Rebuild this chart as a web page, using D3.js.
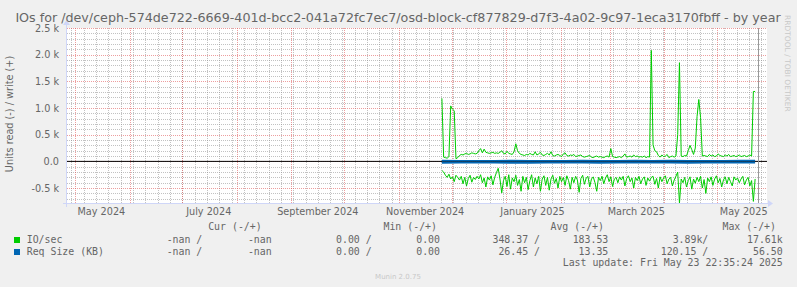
<!DOCTYPE html>
<html>
<head>
<meta charset="utf-8">
<script src="https://cdn.jsdelivr.net/npm/d3@7"></script>
<style>
  html, body { margin: 0; padding: 0; background: #f0f0f0; }
  svg { display: block; }
</style>
</head>
<body>
<div id="chart"></div>
<script>
// daily values from 2024-11-25 onward
const seriesStart = new Date(2024, 10, 25, 12);

const ioWrite = [
  1180, 80, 70, 60, 90, 1040, 980, 950, 50, 70,
  110, 130, 120, 140, 150, 130, 140, 160, 150, 140,
  150, 200, 240, 160, 230, 170, 160, 150, 160, 170,
  150, 160, 150, 170, 200, 150, 140, 190, 150, 140,
  130, 180, 330, 200, 150, 130, 120, 110, 130, 120,
  150, 130, 120, 180, 120, 140, 170, 120, 110, 130,
  150, 120, 180, 110, 100, 120, 130, 110, 90, 140,
  160, 110, 100, 120, 110, 130, 90, 100, 110, 120,
  90, 80, 90, 100, 110, 80, 70, 90, 100, 80,
  90, 80, 70, 90, 100, 80, 240, 90, 80, 70,
  80, 90, 70, 100, 140, 80, 90, 100, 80, 120,
  90, 100, 80, 90, 80, 100, 70, 90, 80, 2080,
  310, 200, 180, 110, 80, 120, 90, 100, 130, 70,
  90, 100, 80, 100, 500, 1850, 100, 90, 110, 100,
  200, 300, 220, 130, 250, 840, 1160, 820, 100, 110,
  100, 90, 130, 100, 120, 90, 100, 140, 110, 100,
  90, 120, 100, 130, 90, 100, 110, 90, 100, 120,
  90, 100, 110, 90, 100, 120, 100, 1310, 1310
];

const ioRead = [
  170, 200, 260, 300, 240, 330, 290, 380, 260, 300,
  350, 280, 420, 300, 460, 320, 260, 390, 300, 340,
  280, 330, 250, 400, 310, 480, 290, 350, 270, 440,
  300, 210, 130, 330, 590, 360, 280, 470, 250, 520,
  310, 380, 260, 450, 340, 560, 280, 400, 300, 530,
  360, 250, 480, 310, 420, 280, 560, 330, 270, 450,
  300, 540, 330, 260, 410, 320, 500, 280, 380, 300,
  450, 270, 360, 520, 300, 400, 280, 350, 580, 320,
  260, 430, 310, 280, 480, 330, 290, 400, 560, 300,
  360, 280, 420, 310, 250, 380, 290, 470, 330, 300,
  400, 290, 350, 280, 460, 320, 270, 380, 310, 500,
  300, 360, 280, 420, 330, 290, 450, 310, 370, 300,
  280, 430, 320, 500, 290, 380, 310, 270, 420, 330,
  300, 460, 350, 280, 200, 780, 330, 400, 300, 480,
  360, 290, 520, 330, 410, 300, 380, 280, 500, 340,
  600, 310, 380, 290, 450, 330, 270, 400, 320, 480,
  350, 290, 420, 300, 380, 460, 290, 350, 310, 400,
  330, 280, 440, 350, 300, 460, 360, 750, 330
];

// req size sampled every 10 days
const reqStep = 10;
const reqWrite = [14, 13, 12, 13, 14, 13, 12, 13, 14, 13, 12, 14, 13, 14, 13, 12, 13, 14];
const reqRead = [27, 26, 25, 26, 28, 27, 26, 25, 26, 27, 26, 25, 27, 26, 28, 26, 25, 26];

const yTicks = [-500, 0, 500, 1000, 1500, 2000, 2500];
const yTickLabels = ["-0.5 k", "0.0", "0.5 k", "1.0 k", "1.5 k", "2.0 k", "2.5 k"];

const legendRows = [
  { name: "IO/sec", color: "#00cc00", cur: ["-nan /", "-nan"], min: ["0.00 /", "0.00"], avg: ["348.37 /", "183.53"], max: ["3.89k/", "17.61k"] },
  { name: "Req Size (KB)", color: "#0066b3", cur: ["-nan /", "-nan"], min: ["0.00 /", "0.00"], avg: ["26.45 /", "13.35"], max: ["120.15 /", "56.50"] }
];

const title = "IOs for /dev/ceph-574de722-6669-401d-bcc2-041a72fc7ec7/osd-block-cf877829-d7f3-4a02-9c97-1eca3170fbff - by year";

const W = 797, H = 287;
const plot = { left: 67, right: 767, top: 28, bottom: 203 };

const svg = d3.select("#chart").append("svg")
  .attr("width", W).attr("height", H)
  .style("font-family", "'DejaVu Sans', sans-serif");

svg.append("rect").attr("width", W).attr("height", H).attr("fill", "#f0f0f0");

const x = d3.scaleTime()
  .domain([new Date(2024, 3, 26, 11), new Date(2025, 4, 29, 6)])
  .range([plot.left, plot.right]);

const y = d3.scaleLinear()
  .domain([-780, 2500])
  .range([plot.bottom, plot.top]);

// canvas
svg.append("rect")
  .attr("x", plot.left).attr("y", plot.top)
  .attr("width", plot.right - plot.left).attr("height", plot.bottom - plot.top)
  .attr("fill", "#ffffff");

const grid = svg.append("g").attr("shape-rendering", "crispEdges");

// minor grid
const minorY = d3.range(-700, 2501, 100).filter(v => v % 500 !== 0);
grid.selectAll(".hmin").data(minorY).join("line")
  .attr("x1", plot.left).attr("x2", plot.right)
  .attr("y1", d => Math.round(y(d)) + 0.5).attr("y2", d => Math.round(y(d)) + 0.5)
  .attr("stroke", "rgba(143,143,143,0.55)").attr("stroke-dasharray", "1,1");

const weeks = d3.timeMonday.range(x.domain()[0], x.domain()[1]);
grid.selectAll(".vmin").data(weeks).join("line")
  .attr("x1", d => Math.round(x(d)) + 0.5).attr("x2", d => Math.round(x(d)) + 0.5)
  .attr("y1", plot.top).attr("y2", plot.bottom)
  .attr("stroke", "rgba(143,143,143,0.55)").attr("stroke-dasharray", "1,1");

// major grid
grid.selectAll(".hmaj").data(yTicks).join("line")
  .attr("x1", plot.left).attr("x2", plot.right)
  .attr("y1", d => Math.round(y(d)) + 0.5).attr("y2", d => Math.round(y(d)) + 0.5)
  .attr("stroke", "rgba(222,79,79,0.55)").attr("stroke-dasharray", "1,1");

const months = d3.timeMonth.range(x.domain()[0], x.domain()[1]);
grid.selectAll(".vmaj").data(months).join("line")
  .attr("x1", d => Math.round(x(d)) + 0.5).attr("x2", d => Math.round(x(d)) + 0.5)
  .attr("y1", plot.top).attr("y2", plot.bottom)
  .attr("stroke", "rgba(222,79,79,0.55)").attr("stroke-dasharray", "1,1");

// y labels
svg.append("g").selectAll("text").data(yTicks).join("text")
  .attr("x", 59).attr("y", d => y(d) + 3.5)
  .attr("text-anchor", "end")
  .attr("fill", "#666").style("font-size", "9.7px")
  .text((d, i) => yTickLabels[i]);

// x labels, every 2 months, centred half a month after the grid line
const labelMonths = months.filter(d => d.getMonth() % 2 === 0);
svg.append("g").selectAll("text").data(labelMonths).join("text")
  .attr("x", d => x(d3.timeDay.offset(d, 15)))
  .attr("y", 215)
  .attr("text-anchor", "middle")
  .attr("fill", "#666").style("font-size", "9.7px")
  .text(d3.timeFormat("%B %Y"));

svg.append("text")
  .attr("transform", "translate(13,114) rotate(-90)")
  .attr("text-anchor", "middle")
  .attr("fill", "#666").style("font-size", "9.7px")
  .text("Units read (-) / write (+)");

// zero rule
svg.append("line")
  .attr("x1", plot.left).attr("x2", plot.right)
  .attr("y1", y(0)).attr("y2", y(0))
  .attr("stroke", "#000").attr("stroke-width", 1);

const day = i => d3.timeDay.offset(seriesStart, i);
const line = d3.line().x(d => x(d[0])).y(d => y(d[1]));

const reqW = reqWrite.map((v, i) => [day(Math.min(i * reqStep, ioWrite.length - 1)), v]);
const reqR = reqRead.map((v, i) => [day(Math.min(i * reqStep, ioWrite.length - 1)), -v]);
reqW.push([day(ioWrite.length - 1), reqWrite[reqWrite.length - 1]]);
reqR.push([day(ioWrite.length - 1), -reqRead[reqRead.length - 1]]);

svg.append("path").datum(reqW).attr("d", line)
  .attr("fill", "none").attr("stroke", "#0066b3").attr("stroke-width", 1.6);
svg.append("path").datum(reqR).attr("d", line)
  .attr("fill", "none").attr("stroke", "#0066b3").attr("stroke-width", 1.6);

svg.append("path").datum(ioWrite.map((v, i) => [day(i), v])).attr("d", line)
  .attr("fill", "none").attr("stroke", "#00cc00").attr("stroke-width", 1);
svg.append("path").datum(ioRead.map((v, i) => [day(i), -v])).attr("d", line)
  .attr("fill", "none").attr("stroke", "#00cc00").attr("stroke-width", 1);

// "now" rule
const now = new Date(2025, 4, 23, 22, 35);
svg.append("line")
  .attr("x1", Math.round(x(now)) + 0.5).attr("x2", Math.round(x(now)) + 0.5)
  .attr("y1", plot.top).attr("y2", plot.bottom)
  .attr("stroke", "#999").attr("stroke-width", 1);

// axes
const axis = svg.append("g").attr("stroke", "#cfd6f8").attr("fill", "#cfd6f8");
axis.append("line").attr("x1", plot.left - 4).attr("x2", plot.right + 1)
  .attr("y1", plot.bottom + 0.5).attr("y2", plot.bottom + 0.5);
axis.append("line").attr("x1", plot.left - 0.5).attr("x2", plot.left - 0.5)
  .attr("y1", plot.bottom + 4).attr("y2", plot.top - 4);
axis.append("path").attr("stroke", "none")
  .attr("d", `M${plot.right + 1},${plot.bottom - 3} L${plot.right + 6},${plot.bottom + 0.5} L${plot.right + 1},${plot.bottom + 4} Z`);
axis.append("path").attr("stroke", "none")
  .attr("d", `M${plot.left - 4},${plot.top - 3} L${plot.left - 0.5},${plot.top - 8} L${plot.left + 3},${plot.top - 3} Z`);

// title
svg.append("text")
  .attr("x", 398).attr("y", 22)
  .attr("text-anchor", "middle")
  .attr("fill", "#666").style("font-size", "12.7px")
  .text(title);

// legend
const mono = "'DejaVu Sans Mono', monospace";
const legend = svg.append("g").style("font-family", mono).style("font-size", "9.9px").attr("fill", "#666");
const headers = [["Cur (-/+)", 261.7], ["Min (-/+)", 437], ["Avg (-/+)", 604], ["Max (-/+)", 776]];
legend.selectAll(".hdr").data(headers).join("text")
  .attr("x", d => d[1]).attr("y", 230).attr("text-anchor", "end").text(d => d[0]);

const colEnds = [202.3, 271.7, 371.7, 440, 540, 608.3, 708.3, 782.7];
legendRows.forEach((r, i) => {
  const yy = 243 + i * 12;
  legend.append("rect").attr("x", 14).attr("y", yy - 6).attr("width", 6).attr("height", 6).attr("fill", r.color);
  legend.append("text").attr("x", 26.7).attr("y", yy).text(r.name);
  const vals = [...r.cur, ...r.min, ...r.avg, ...r.max];
  vals.forEach((v, j) => {
    legend.append("text").attr("x", colEnds[j]).attr("y", yy).attr("text-anchor", "end").text(v);
  });
});
legend.append("text").attr("x", 782.7).attr("y", 266).attr("text-anchor", "end")
  .text("Last update: Fri May 23 22:35:24 2025");

svg.append("text")
  .attr("x", 398).attr("y", 279).attr("text-anchor", "middle")
  .attr("fill", "#c8c8c8").style("font-size", "7px")
  .text("Munin 2.0.75");

svg.append("text")
  .attr("transform", "translate(785,15) rotate(90)")
  .attr("fill", "#c8c8c8").style("font-size", "7.5px")
  .text("RRDTOOL / TOBI OETIKER");
</script>
</body>
</html>
